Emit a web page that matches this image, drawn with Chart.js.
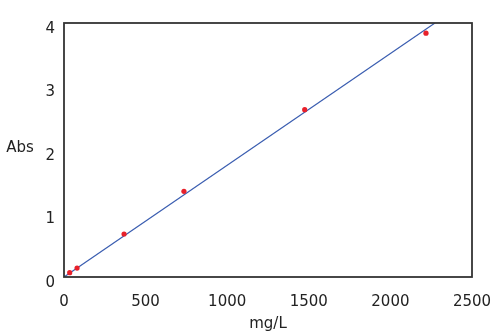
<!DOCTYPE html>
<html><head><meta charset="utf-8">
<script src="https://cdn.jsdelivr.net/npm/chart.js@4"></script>
<style>html,body{margin:0;padding:0;background:#fff}#wrap{width:500px;height:335px;position:relative}</style>
</head><body><div id="wrap"><canvas id="c"></canvas></div>
<script>
// Calibration data (mg/L vs Abs)
const concentrations = [35, 80, 368, 735, 1475, 2218];
const absorbances = [0.068, 0.14, 0.677, 1.35, 2.635, 3.84];
// Fitted line endpoints
const fitX = [0, 2273];
const fitY = [0, 4];
const xTicks = [0, 500, 1000, 1500, 2000, 2500];
const yTicks = [0, 1, 2, 3, 4];
const xTitle = 'mg/L';
const yTitle = 'Abs';

const FONT = '"DejaVu Sans", sans-serif';
const TXT = '#222';

const framePlugin = {
  id: 'frame',
  afterDatasetsDraw(chart) {
    const {ctx, chartArea: a} = chart;
    ctx.save();
    ctx.strokeStyle = '#333';
    ctx.lineWidth = 1.8;
    ctx.strokeRect(a.left, a.top, a.right - a.left, a.bottom - a.top);
    ctx.restore();
  },
  afterDraw(chart) {
    const {ctx} = chart;
    ctx.save();
    ctx.fillStyle = TXT;
    ctx.font = '15px ' + FONT;
    ctx.textAlign = 'center';
    ctx.textBaseline = 'middle';
    ctx.fillText(yTitle, 20, 148);
    ctx.restore();
  }
};

new Chart(document.getElementById('c'), {
  type: 'scatter',
  data: {
    datasets: [
      {
        label: 'measured',
        data: concentrations.map((x, i) => ({x, y: absorbances[i]})),
        pointRadius: 2.6,
        pointBackgroundColor: '#e8202a',
        pointBorderWidth: 0,
        showLine: false
      },
      {
        label: 'fit',
        data: fitX.map((x, i) => ({x, y: fitY[i]})),
        showLine: true,
        pointRadius: 0,
        borderColor: '#3a5db0',
        borderWidth: 1.2
      }
    ]
  },
  options: {
    responsive: true,
    maintainAspectRatio: false,
    animation: false,
    layout: {padding: {top: 23, right: 28, left: 0, bottom: 0}},
    plugins: {legend: {display: false}, tooltip: {enabled: false}},
    scales: {
      x: {
        type: 'linear', min: 0, max: 2500,
        afterBuildTicks(s) { s.ticks = xTicks.map(v => ({value: v})); },
        ticks: {padding: 16, font: {family: FONT, size: 15}, color: TXT, callback: v => String(v)},
        grid: {display: false, drawTicks: false},
        border: {display: false},
        title: {display: true, text: xTitle, font: {family: FONT, size: 15}, color: TXT, padding: {top: 0, bottom: 2}},
        afterFit(s) { s.height = 58; s.paddingLeft = 0; s.paddingRight = 0; }
      },
      y: {
        type: 'linear', min: 0, max: 4,
        afterBuildTicks(s) { s.ticks = yTicks.map(v => ({value: v})); },
        ticks: {padding: 9, labelOffset: 6, font: {family: FONT, size: 15}, color: TXT, callback: v => String(v)},
        grid: {display: false, drawTicks: false},
        border: {display: false},
        afterFit(s) { s.width = 64; s.paddingTop = 0; s.paddingBottom = 0; }
      }
    }
  },
  plugins: [framePlugin]
});
</script>
</body></html>
